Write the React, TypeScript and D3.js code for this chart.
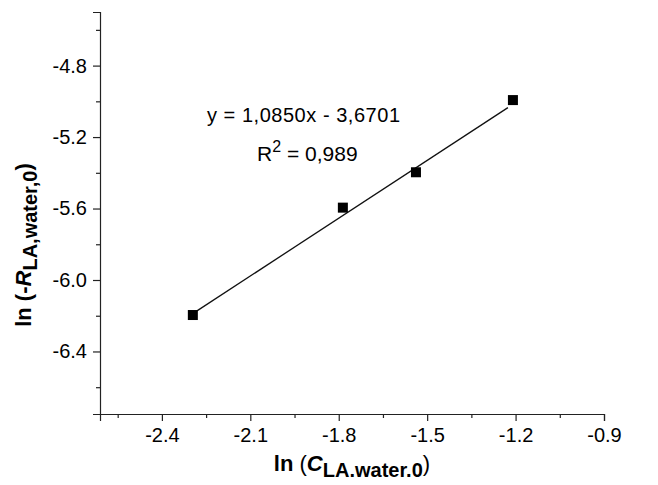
import React, { useRef, useEffect } from 'react';
import * as d3 from 'd3';

// measured points, ln(C) vs ln(-R)
const xValues = [-2.295, -1.786, -1.538, -1.209];
const yValues = [-6.196, -5.595, -5.397, -4.993];

// fitted line as drawn on the plot (end points)
const fitLineX = [-2.281, -1.226];
const fitLineY = [-6.173, -5.035];
const fitLabel = 'y = 1,0850x - 3,6701';
const r2Label = ' = 0,989';

const xMajorTicks = [-2.4, -2.1, -1.8, -1.5, -1.2, -0.9];
const xMinorTicks = [-2.55, -2.25, -1.95, -1.65, -1.35, -1.05];
const yMajorTicks = [-4.8, -5.2, -5.6, -6.0, -6.4];
const yMinorTicks = [-4.6, -5.0, -5.4, -5.8, -6.2, -6.6];

const W = 658;
const H = 485;
const FONT = "Arial, 'Liberation Sans', Helvetica, sans-serif";

const App = () => {
    const svgRef = useRef<SVGSVGElement>(null);

    useEffect(() => {
        const svg = d3.select(svgRef.current);
        svg.selectAll('*').remove();

        const margin = { top: 12, right: 54, bottom: 71, left: 100 };
        const width = W - margin.left - margin.right;
        const height = H - margin.top - margin.bottom;

        const x = d3.scaleLinear().domain([-2.61, -0.9]).range([0, width]);
        const y = d3.scaleLinear().domain([-6.75, -4.5]).range([height, 0]);

        const g = svg.append('g')
            .attr('transform', 'translate(' + margin.left + ',' + margin.top + ')');

        // x axis: majors with labels, minors without
        const xAxis = d3.axisBottom(x)
            .tickValues(xMajorTicks)
            .tickSize(7)
            .tickPadding(7)
            .tickFormat(d3.format('.1f'));
        const xg = g.append('g')
            .attr('transform', 'translate(0,' + height + ')')
            .call(xAxis);
        g.append('g')
            .attr('transform', 'translate(0,' + height + ')')
            .call(d3.axisBottom(x).tickValues(xMinorTicks).tickSize(4).tickFormat(() => ''))
            .select('.domain').remove();

        const yAxis = d3.axisLeft(y)
            .tickValues(yMajorTicks)
            .tickSize(7)
            .tickPadding(6)
            .tickFormat(d3.format('.1f'));
        const yg = g.append('g').call(yAxis);
        g.append('g')
            .call(d3.axisLeft(y).tickValues(yMinorTicks).tickSize(4).tickFormat(() => ''))
            .select('.domain').remove();

        [xg, yg].forEach(a => {
            a.selectAll('text')
                .attr('font-family', FONT)
                .attr('font-size', 20)
                .attr('fill', '#000');
            a.select('.domain').attr('stroke', '#222').attr('stroke-width', 1.2);
        });
        g.selectAll('.tick line').attr('stroke', '#222').attr('stroke-width', 1.2);
        // d3 uses a unicode minus; the figure uses a hyphen
        g.selectAll('.tick text').text(function () {
            return (d3.select(this).text() || '').replace('\u2212', '-');
        });

        // fit line
        g.append('line')
            .attr('x1', x(fitLineX[0]))
            .attr('y1', y(fitLineY[0]))
            .attr('x2', x(fitLineX[1]))
            .attr('y2', y(fitLineY[1]))
            .attr('stroke', '#111')
            .attr('stroke-width', 1.3);

        // square markers
        const s = 10;
        g.selectAll('.pt')
            .data(xValues.map((v, i) => [v, yValues[i]]))
            .enter()
            .append('rect')
            .attr('x', d => x(d[0]) - s / 2)
            .attr('y', d => y(d[1]) - s / 2)
            .attr('width', s)
            .attr('height', s)
            .attr('fill', '#000');

        // equation annotation
        svg.append('text')
            .attr('x', 207)
            .attr('y', 122)
            .attr('font-family', FONT)
            .attr('font-size', 20)
            .attr('textLength', 193)
            .text(fitLabel);
        const r2 = svg.append('text')
            .attr('x', 257)
            .attr('y', 161)
            .attr('font-family', FONT)
            .attr('font-size', 21);
        r2.append('tspan').text('R');
        r2.append('tspan').attr('font-size', 16).attr('dy', -9).text('2');
        r2.append('tspan').attr('dy', 9).text(r2Label);

        // x axis title
        const xt = svg.append('text')
            .attr('x', 352)
            .attr('y', 471)
            .attr('text-anchor', 'middle')
            .attr('font-family', FONT)
            .attr('font-size', 22)
            .attr('font-weight', 'bold');
        xt.append('tspan').text('ln ');
        xt.append('tspan').attr('font-weight', 'normal').text('(');
        xt.append('tspan').attr('font-style', 'italic').text('C');
        xt.append('tspan').attr('font-size', 20).attr('dy', 6).text('LA.water.0');
        xt.append('tspan').attr('font-weight', 'normal').attr('dy', -6).text(')');

        // y axis title
        const yt = svg.append('text')
            .attr('transform', 'translate(31,245) rotate(-90)')
            .attr('text-anchor', 'middle')
            .attr('font-family', FONT)
            .attr('font-size', 22)
            .attr('font-weight', 'bold');
        yt.append('tspan').text('ln (-');
        yt.append('tspan').attr('font-style', 'italic').text('R');
        yt.append('tspan').attr('font-size', 20).attr('dy', 6).text('LA,water,0');
        yt.append('tspan').attr('dy', -6).text(')');
    }, []);

    return (
        <svg ref={svgRef} width={W} height={H}
            style={{ position: 'absolute', left: 0, top: 0, background: '#fff' }} />
    );
};

export default App;
